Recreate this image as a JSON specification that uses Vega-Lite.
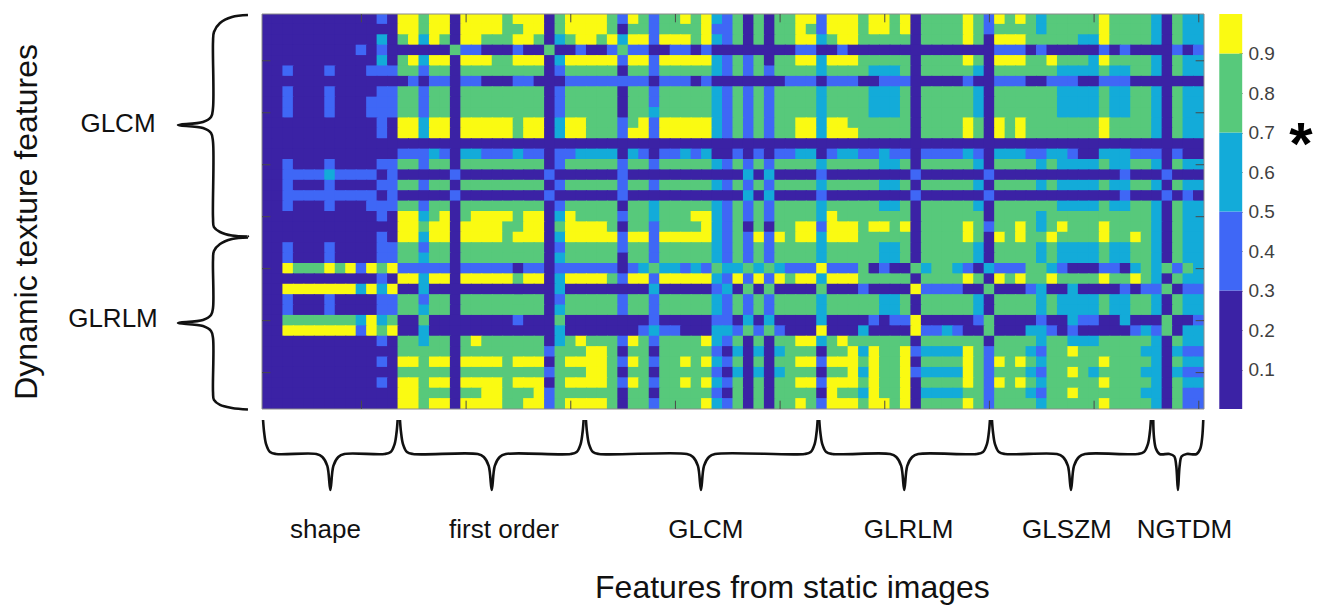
{"$schema":"https://vega.github.io/schema/vega-lite/v6.json","width":942,"height":395,"autosize":{"type":"none"},"padding":{"left":262,"top":14,"right":120,"bottom":196},"background":"white","config":{"view":{"stroke":null}},"resolve":{"scale":{"y":"independent"}},"layer":[
{"data":{"format":{"type":"csv","parse":{"x":"number","y":"number","v":"number"}},"values":"x,y,v\n1,1,.2\n2,1,.2\n3,1,.2\n4,1,.2\n5,1,.2\n6,1,.2\n7,1,.2\n8,1,.2\n9,1,.2\n10,1,.2\n11,1,.2\n12,1,.4\n13,1,.2\n14,1,.95\n15,1,.95\n16,1,.8\n17,1,.95\n18,1,.95\n19,1,.2\n20,1,.95\n21,1,.95\n22,1,.95\n23,1,.95\n24,1,.8\n25,1,.95\n26,1,.95\n27,1,.95\n28,1,.2\n29,1,.8\n30,1,.95\n31,1,.95\n32,1,.95\n33,1,.95\n34,1,.8\n35,1,.4\n36,1,.95\n37,1,.8\n38,1,.4\n39,1,.8\n40,1,.8\n41,1,.95\n42,1,.8\n43,1,.95\n44,1,.6\n45,1,.4\n46,1,.8\n47,1,.2\n48,1,.8\n49,1,.2\n50,1,.8\n51,1,.8\n52,1,.95\n53,1,.95\n54,1,.4\n55,1,.95\n56,1,.95\n57,1,.95\n58,1,.8\n59,1,.95\n60,1,.95\n61,1,.8\n62,1,.95\n63,1,.2\n64,1,.8\n65,1,.8\n66,1,.8\n67,1,.8\n68,1,.95\n69,1,.8\n70,1,.4\n71,1,.95\n72,1,.8\n73,1,.95\n74,1,.8\n75,1,.6\n76,1,.8\n77,1,.8\n78,1,.8\n79,1,.8\n80,1,.8\n81,1,.95\n82,1,.8\n83,1,.8\n84,1,.8\n85,1,.8\n86,1,.6\n87,1,.2\n88,1,.8\n89,1,.6\n90,1,.6\n1,2,.2\n2,2,.2\n3,2,.2\n4,2,.2\n5,2,.2\n6,2,.2\n7,2,.2\n8,2,.2\n9,2,.2\n10,2,.2\n11,2,.2\n12,2,.2\n13,2,.2\n14,2,.95\n15,2,.95\n16,2,.8\n17,2,.95\n18,2,.95\n19,2,.2\n20,2,.95\n21,2,.95\n22,2,.95\n23,2,.95\n24,2,.8\n25,2,.8\n26,2,.95\n27,2,.95\n28,2,.2\n29,2,.8\n30,2,.95\n31,2,.95\n32,2,.95\n33,2,.95\n34,2,.8\n35,2,.2\n36,2,.8\n37,2,.8\n38,2,.4\n39,2,.8\n40,2,.8\n41,2,.8\n42,2,.8\n43,2,.95\n44,2,.4\n45,2,.4\n46,2,.8\n47,2,.2\n48,2,.8\n49,2,.2\n50,2,.8\n51,2,.8\n52,2,.95\n53,2,.8\n54,2,.4\n55,2,.95\n56,2,.95\n57,2,.95\n58,2,.8\n59,2,.95\n60,2,.95\n61,2,.8\n62,2,.95\n63,2,.2\n64,2,.8\n65,2,.8\n66,2,.8\n67,2,.8\n68,2,.95\n69,2,.8\n70,2,.4\n71,2,.8\n72,2,.8\n73,2,.8\n74,2,.8\n75,2,.6\n76,2,.8\n77,2,.8\n78,2,.8\n79,2,.8\n80,2,.8\n81,2,.95\n82,2,.8\n83,2,.8\n84,2,.8\n85,2,.8\n86,2,.6\n87,2,.2\n88,2,.8\n89,2,.6\n90,2,.6\n1,3,.2\n2,3,.2\n3,3,.2\n4,3,.2\n5,3,.2\n6,3,.2\n7,3,.2\n8,3,.2\n9,3,.2\n10,3,.2\n11,3,.2\n12,3,.6\n13,3,.2\n14,3,.8\n15,3,.95\n16,3,.6\n17,3,.95\n18,3,.8\n19,3,.2\n20,3,.95\n21,3,.95\n22,3,.8\n23,3,.8\n24,3,.8\n25,3,.95\n26,3,.95\n27,3,.8\n28,3,.2\n29,3,.6\n30,3,.8\n31,3,.95\n32,3,.95\n33,3,.8\n34,3,.95\n35,3,.6\n36,3,.95\n37,3,.95\n38,3,.4\n39,3,.95\n40,3,.95\n41,3,.95\n42,3,.8\n43,3,.95\n44,3,.6\n45,3,.4\n46,3,.8\n47,3,.2\n48,3,.8\n49,3,.2\n50,3,.8\n51,3,.8\n52,3,.95\n53,3,.95\n54,3,.6\n55,3,.8\n56,3,.95\n57,3,.95\n58,3,.8\n59,3,.8\n60,3,.8\n61,3,.8\n62,3,.8\n63,3,.2\n64,3,.8\n65,3,.8\n66,3,.8\n67,3,.8\n68,3,.95\n69,3,.8\n70,3,.2\n71,3,.95\n72,3,.95\n73,3,.95\n74,3,.8\n75,3,.8\n76,3,.8\n77,3,.8\n78,3,.8\n79,3,.6\n80,3,.6\n81,3,.95\n82,3,.8\n83,3,.8\n84,3,.8\n85,3,.8\n86,3,.6\n87,3,.2\n88,3,.8\n89,3,.6\n90,3,.6\n1,4,.2\n2,4,.2\n3,4,.2\n4,4,.2\n5,4,.2\n6,4,.2\n7,4,.2\n8,4,.2\n9,4,.2\n10,4,.4\n11,4,.2\n12,4,.4\n13,4,.2\n14,4,.2\n15,4,.2\n16,4,.2\n17,4,.2\n18,4,.2\n19,4,.8\n20,4,.4\n21,4,.4\n22,4,.2\n23,4,.2\n24,4,.2\n25,4,.4\n26,4,.2\n27,4,.2\n28,4,.8\n29,4,.2\n30,4,.2\n31,4,.4\n32,4,.2\n33,4,.2\n34,4,.4\n35,4,.8\n36,4,.4\n37,4,.4\n38,4,.2\n39,4,.2\n40,4,.4\n41,4,.4\n42,4,.2\n43,4,.4\n44,4,.2\n45,4,.2\n46,4,.2\n47,4,.2\n48,4,.2\n49,4,.2\n50,4,.2\n51,4,.2\n52,4,.4\n53,4,.4\n54,4,.2\n55,4,.2\n56,4,.4\n57,4,.2\n58,4,.2\n59,4,.2\n60,4,.2\n61,4,.2\n62,4,.2\n63,4,.2\n64,4,.2\n65,4,.2\n66,4,.2\n67,4,.2\n68,4,.2\n69,4,.2\n70,4,.2\n71,4,.4\n72,4,.4\n73,4,.4\n74,4,.2\n75,4,.4\n76,4,.2\n77,4,.2\n78,4,.2\n79,4,.2\n80,4,.2\n81,4,.4\n82,4,.2\n83,4,.4\n84,4,.2\n85,4,.2\n86,4,.2\n87,4,.2\n88,4,.4\n89,4,.2\n90,4,.4\n1,5,.2\n2,5,.2\n3,5,.2\n4,5,.2\n5,5,.2\n6,5,.2\n7,5,.2\n8,5,.2\n9,5,.2\n10,5,.2\n11,5,.2\n12,5,.6\n13,5,.2\n14,5,.8\n15,5,.95\n16,5,.6\n17,5,.95\n18,5,.95\n19,5,.2\n20,5,.95\n21,5,.95\n22,5,.95\n23,5,.8\n24,5,.8\n25,5,.95\n26,5,.95\n27,5,.95\n28,5,.2\n29,5,.6\n30,5,.95\n31,5,.95\n32,5,.95\n33,5,.95\n34,5,.95\n35,5,.4\n36,5,.95\n37,5,.95\n38,5,.4\n39,5,.95\n40,5,.95\n41,5,.95\n42,5,.95\n43,5,.95\n44,5,.6\n45,5,.4\n46,5,.8\n47,5,.4\n48,5,.8\n49,5,.2\n50,5,.8\n51,5,.8\n52,5,.95\n53,5,.95\n54,5,.6\n55,5,.95\n56,5,.95\n57,5,.95\n58,5,.8\n59,5,.8\n60,5,.8\n61,5,.8\n62,5,.8\n63,5,.2\n64,5,.8\n65,5,.8\n66,5,.8\n67,5,.8\n68,5,.95\n69,5,.8\n70,5,.2\n71,5,.95\n72,5,.95\n73,5,.95\n74,5,.8\n75,5,.8\n76,5,.95\n77,5,.8\n78,5,.8\n79,5,.8\n80,5,.6\n81,5,.95\n82,5,.8\n83,5,.8\n84,5,.8\n85,5,.8\n86,5,.6\n87,5,.2\n88,5,.8\n89,5,.6\n90,5,.6\n1,6,.2\n2,6,.2\n3,6,.4\n4,6,.2\n5,6,.2\n6,6,.2\n7,6,.4\n8,6,.2\n9,6,.2\n10,6,.2\n11,6,.4\n12,6,.4\n13,6,.4\n14,6,.8\n15,6,.8\n16,6,.4\n17,6,.8\n18,6,.8\n19,6,.2\n20,6,.8\n21,6,.8\n22,6,.8\n23,6,.8\n24,6,.8\n25,6,.8\n26,6,.8\n27,6,.8\n28,6,.2\n29,6,.4\n30,6,.8\n31,6,.8\n32,6,.8\n33,6,.8\n34,6,.8\n35,6,.2\n36,6,.8\n37,6,.8\n38,6,.4\n39,6,.8\n40,6,.8\n41,6,.8\n42,6,.8\n43,6,.8\n44,6,.6\n45,6,.4\n46,6,.8\n47,6,.4\n48,6,.8\n49,6,.4\n50,6,.8\n51,6,.8\n52,6,.8\n53,6,.8\n54,6,.6\n55,6,.8\n56,6,.8\n57,6,.8\n58,6,.8\n59,6,.6\n60,6,.6\n61,6,.6\n62,6,.8\n63,6,.2\n64,6,.8\n65,6,.8\n66,6,.8\n67,6,.8\n68,6,.8\n69,6,.6\n70,6,.2\n71,6,.8\n72,6,.8\n73,6,.8\n74,6,.8\n75,6,.8\n76,6,.8\n77,6,.6\n78,6,.6\n79,6,.6\n80,6,.6\n81,6,.8\n82,6,.6\n83,6,.6\n84,6,.8\n85,6,.8\n86,6,.6\n87,6,.2\n88,6,.8\n89,6,.6\n90,6,.6\n1,7,.2\n2,7,.2\n3,7,.2\n4,7,.2\n5,7,.2\n6,7,.2\n7,7,.2\n8,7,.2\n9,7,.2\n10,7,.2\n11,7,.2\n12,7,.2\n13,7,.2\n14,7,.2\n15,7,.4\n16,7,.2\n17,7,.4\n18,7,.4\n19,7,.2\n20,7,.4\n21,7,.4\n22,7,.2\n23,7,.2\n24,7,.2\n25,7,.4\n26,7,.4\n27,7,.2\n28,7,.2\n29,7,.2\n30,7,.4\n31,7,.4\n32,7,.4\n33,7,.4\n34,7,.4\n35,7,.4\n36,7,.4\n37,7,.4\n38,7,.2\n39,7,.4\n40,7,.4\n41,7,.4\n42,7,.2\n43,7,.4\n44,7,.2\n45,7,.2\n46,7,.2\n47,7,.2\n48,7,.2\n49,7,.2\n50,7,.2\n51,7,.4\n52,7,.4\n53,7,.4\n54,7,.2\n55,7,.4\n56,7,.4\n57,7,.4\n58,7,.2\n59,7,.2\n60,7,.4\n61,7,.4\n62,7,.4\n63,7,.2\n64,7,.2\n65,7,.2\n66,7,.2\n67,7,.2\n68,7,.4\n69,7,.2\n70,7,.2\n71,7,.4\n72,7,.4\n73,7,.4\n74,7,.2\n75,7,.2\n76,7,.4\n77,7,.4\n78,7,.4\n79,7,.2\n80,7,.2\n81,7,.4\n82,7,.4\n83,7,.4\n84,7,.2\n85,7,.2\n86,7,.2\n87,7,.2\n88,7,.2\n89,7,.2\n90,7,.2\n1,8,.2\n2,8,.2\n3,8,.4\n4,8,.2\n5,8,.2\n6,8,.2\n7,8,.4\n8,8,.2\n9,8,.2\n10,8,.2\n11,8,.2\n12,8,.4\n13,8,.4\n14,8,.8\n15,8,.8\n16,8,.4\n17,8,.8\n18,8,.8\n19,8,.2\n20,8,.8\n21,8,.8\n22,8,.8\n23,8,.8\n24,8,.8\n25,8,.8\n26,8,.8\n27,8,.8\n28,8,.2\n29,8,.4\n30,8,.8\n31,8,.8\n32,8,.8\n33,8,.8\n34,8,.8\n35,8,.2\n36,8,.8\n37,8,.8\n38,8,.4\n39,8,.8\n40,8,.8\n41,8,.8\n42,8,.8\n43,8,.8\n44,8,.6\n45,8,.4\n46,8,.8\n47,8,.4\n48,8,.8\n49,8,.4\n50,8,.8\n51,8,.8\n52,8,.8\n53,8,.8\n54,8,.6\n55,8,.8\n56,8,.8\n57,8,.8\n58,8,.8\n59,8,.6\n60,8,.6\n61,8,.6\n62,8,.8\n63,8,.2\n64,8,.8\n65,8,.8\n66,8,.8\n67,8,.8\n68,8,.8\n69,8,.6\n70,8,.2\n71,8,.8\n72,8,.8\n73,8,.8\n74,8,.8\n75,8,.8\n76,8,.8\n77,8,.6\n78,8,.6\n79,8,.6\n80,8,.6\n81,8,.8\n82,8,.6\n83,8,.6\n84,8,.8\n85,8,.8\n86,8,.6\n87,8,.2\n88,8,.8\n89,8,.6\n90,8,.6\n1,9,.2\n2,9,.2\n3,9,.4\n4,9,.2\n5,9,.2\n6,9,.2\n7,9,.4\n8,9,.2\n9,9,.2\n10,9,.2\n11,9,.4\n12,9,.4\n13,9,.4\n14,9,.8\n15,9,.8\n16,9,.4\n17,9,.8\n18,9,.8\n19,9,.2\n20,9,.8\n21,9,.8\n22,9,.8\n23,9,.8\n24,9,.8\n25,9,.8\n26,9,.8\n27,9,.8\n28,9,.2\n29,9,.4\n30,9,.8\n31,9,.8\n32,9,.8\n33,9,.8\n34,9,.8\n35,9,.2\n36,9,.8\n37,9,.8\n38,9,.4\n39,9,.8\n40,9,.8\n41,9,.8\n42,9,.8\n43,9,.8\n44,9,.6\n45,9,.4\n46,9,.8\n47,9,.4\n48,9,.8\n49,9,.4\n50,9,.8\n51,9,.8\n52,9,.8\n53,9,.8\n54,9,.6\n55,9,.8\n56,9,.8\n57,9,.8\n58,9,.8\n59,9,.6\n60,9,.6\n61,9,.6\n62,9,.8\n63,9,.2\n64,9,.8\n65,9,.8\n66,9,.8\n67,9,.8\n68,9,.8\n69,9,.6\n70,9,.2\n71,9,.8\n72,9,.8\n73,9,.8\n74,9,.8\n75,9,.8\n76,9,.8\n77,9,.6\n78,9,.6\n79,9,.6\n80,9,.6\n81,9,.8\n82,9,.6\n83,9,.6\n84,9,.8\n85,9,.8\n86,9,.6\n87,9,.2\n88,9,.8\n89,9,.6\n90,9,.6\n1,10,.2\n2,10,.2\n3,10,.4\n4,10,.2\n5,10,.2\n6,10,.2\n7,10,.4\n8,10,.2\n9,10,.2\n10,10,.2\n11,10,.4\n12,10,.4\n13,10,.4\n14,10,.8\n15,10,.8\n16,10,.4\n17,10,.8\n18,10,.8\n19,10,.2\n20,10,.8\n21,10,.8\n22,10,.8\n23,10,.8\n24,10,.8\n25,10,.8\n26,10,.8\n27,10,.8\n28,10,.2\n29,10,.4\n30,10,.8\n31,10,.8\n32,10,.8\n33,10,.8\n34,10,.8\n35,10,.2\n36,10,.8\n37,10,.8\n38,10,.6\n39,10,.8\n40,10,.8\n41,10,.8\n42,10,.8\n43,10,.8\n44,10,.6\n45,10,.4\n46,10,.8\n47,10,.4\n48,10,.8\n49,10,.4\n50,10,.8\n51,10,.8\n52,10,.8\n53,10,.8\n54,10,.6\n55,10,.8\n56,10,.8\n57,10,.8\n58,10,.8\n59,10,.6\n60,10,.6\n61,10,.6\n62,10,.8\n63,10,.2\n64,10,.8\n65,10,.8\n66,10,.8\n67,10,.8\n68,10,.8\n69,10,.6\n70,10,.2\n71,10,.8\n72,10,.8\n73,10,.8\n74,10,.8\n75,10,.8\n76,10,.8\n77,10,.6\n78,10,.6\n79,10,.6\n80,10,.6\n81,10,.8\n82,10,.6\n83,10,.6\n84,10,.8\n85,10,.8\n86,10,.6\n87,10,.2\n88,10,.8\n89,10,.6\n90,10,.6\n1,11,.2\n2,11,.2\n3,11,.2\n4,11,.2\n5,11,.2\n6,11,.2\n7,11,.2\n8,11,.2\n9,11,.2\n10,11,.2\n11,11,.2\n12,11,.4\n13,11,.2\n14,11,.95\n15,11,.95\n16,11,.6\n17,11,.95\n18,11,.95\n19,11,.2\n20,11,.95\n21,11,.95\n22,11,.95\n23,11,.95\n24,11,.95\n25,11,.8\n26,11,.95\n27,11,.95\n28,11,.2\n29,11,.6\n30,11,.95\n31,11,.95\n32,11,.8\n33,11,.8\n34,11,.8\n35,11,.4\n36,11,.8\n37,11,.95\n38,11,.4\n39,11,.95\n40,11,.95\n41,11,.95\n42,11,.95\n43,11,.95\n44,11,.6\n45,11,.4\n46,11,.8\n47,11,.4\n48,11,.8\n49,11,.4\n50,11,.8\n51,11,.8\n52,11,.95\n53,11,.95\n54,11,.6\n55,11,.95\n56,11,.95\n57,11,.8\n58,11,.8\n59,11,.8\n60,11,.8\n61,11,.8\n62,11,.8\n63,11,.2\n64,11,.8\n65,11,.8\n66,11,.8\n67,11,.8\n68,11,.95\n69,11,.8\n70,11,.2\n71,11,.95\n72,11,.8\n73,11,.95\n74,11,.8\n75,11,.8\n76,11,.8\n77,11,.8\n78,11,.8\n79,11,.8\n80,11,.8\n81,11,.95\n82,11,.8\n83,11,.8\n84,11,.8\n85,11,.8\n86,11,.6\n87,11,.2\n88,11,.8\n89,11,.6\n90,11,.6\n1,12,.2\n2,12,.2\n3,12,.2\n4,12,.2\n5,12,.2\n6,12,.2\n7,12,.2\n8,12,.2\n9,12,.2\n10,12,.2\n11,12,.2\n12,12,.4\n13,12,.2\n14,12,.95\n15,12,.95\n16,12,.6\n17,12,.95\n18,12,.95\n19,12,.2\n20,12,.95\n21,12,.95\n22,12,.95\n23,12,.95\n24,12,.95\n25,12,.8\n26,12,.95\n27,12,.95\n28,12,.2\n29,12,.6\n30,12,.95\n31,12,.95\n32,12,.8\n33,12,.8\n34,12,.8\n35,12,.4\n36,12,.95\n37,12,.95\n38,12,.4\n39,12,.95\n40,12,.95\n41,12,.95\n42,12,.95\n43,12,.95\n44,12,.6\n45,12,.4\n46,12,.8\n47,12,.4\n48,12,.8\n49,12,.4\n50,12,.8\n51,12,.8\n52,12,.95\n53,12,.95\n54,12,.6\n55,12,.95\n56,12,.95\n57,12,.95\n58,12,.8\n59,12,.8\n60,12,.8\n61,12,.8\n62,12,.8\n63,12,.2\n64,12,.8\n65,12,.8\n66,12,.8\n67,12,.8\n68,12,.95\n69,12,.8\n70,12,.2\n71,12,.95\n72,12,.8\n73,12,.95\n74,12,.8\n75,12,.8\n76,12,.8\n77,12,.8\n78,12,.8\n79,12,.8\n80,12,.8\n81,12,.95\n82,12,.8\n83,12,.8\n84,12,.8\n85,12,.8\n86,12,.6\n87,12,.2\n88,12,.8\n89,12,.6\n90,12,.6\n1,13,.2\n2,13,.2\n3,13,.2\n4,13,.2\n5,13,.2\n6,13,.2\n7,13,.2\n8,13,.2\n9,13,.2\n10,13,.2\n11,13,.2\n12,13,.2\n13,13,.2\n14,13,.2\n15,13,.2\n16,13,.2\n17,13,.2\n18,13,.2\n19,13,.2\n20,13,.2\n21,13,.2\n22,13,.2\n23,13,.2\n24,13,.2\n25,13,.2\n26,13,.2\n27,13,.2\n28,13,.2\n29,13,.2\n30,13,.2\n31,13,.2\n32,13,.2\n33,13,.2\n34,13,.2\n35,13,.2\n36,13,.2\n37,13,.2\n38,13,.2\n39,13,.2\n40,13,.2\n41,13,.2\n42,13,.2\n43,13,.2\n44,13,.2\n45,13,.2\n46,13,.2\n47,13,.2\n48,13,.2\n49,13,.2\n50,13,.2\n51,13,.2\n52,13,.2\n53,13,.2\n54,13,.2\n55,13,.2\n56,13,.2\n57,13,.2\n58,13,.2\n59,13,.2\n60,13,.2\n61,13,.2\n62,13,.2\n63,13,.2\n64,13,.2\n65,13,.2\n66,13,.2\n67,13,.2\n68,13,.2\n69,13,.2\n70,13,.2\n71,13,.2\n72,13,.2\n73,13,.2\n74,13,.2\n75,13,.2\n76,13,.2\n77,13,.2\n78,13,.2\n79,13,.2\n80,13,.2\n81,13,.2\n82,13,.2\n83,13,.2\n84,13,.2\n85,13,.2\n86,13,.2\n87,13,.2\n88,13,.2\n89,13,.2\n90,13,.2\n1,14,.2\n2,14,.2\n3,14,.2\n4,14,.2\n5,14,.2\n6,14,.2\n7,14,.2\n8,14,.2\n9,14,.2\n10,14,.2\n11,14,.2\n12,14,.2\n13,14,.2\n14,14,.4\n15,14,.4\n16,14,.4\n17,14,.6\n18,14,.4\n19,14,.2\n20,14,.6\n21,14,.6\n22,14,.4\n23,14,.4\n24,14,.4\n25,14,.6\n26,14,.4\n27,14,.4\n28,14,.2\n29,14,.4\n30,14,.4\n31,14,.6\n32,14,.6\n33,14,.6\n34,14,.6\n35,14,.2\n36,14,.6\n37,14,.4\n38,14,.2\n39,14,.4\n40,14,.4\n41,14,.6\n42,14,.4\n43,14,.6\n44,14,.2\n45,14,.2\n46,14,.4\n47,14,.2\n48,14,.4\n49,14,.2\n50,14,.4\n51,14,.4\n52,14,.6\n53,14,.6\n54,14,.2\n55,14,.4\n56,14,.6\n57,14,.6\n58,14,.4\n59,14,.4\n60,14,.6\n61,14,.4\n62,14,.4\n63,14,.2\n64,14,.4\n65,14,.4\n66,14,.4\n67,14,.4\n68,14,.6\n69,14,.4\n70,14,.2\n71,14,.6\n72,14,.6\n73,14,.6\n74,14,.4\n75,14,.4\n76,14,.6\n77,14,.6\n78,14,.4\n79,14,.2\n80,14,.2\n81,14,.6\n82,14,.6\n83,14,.6\n84,14,.4\n85,14,.4\n86,14,.4\n87,14,.2\n88,14,.4\n89,14,.2\n90,14,.2\n1,15,.2\n2,15,.2\n3,15,.4\n4,15,.2\n5,15,.2\n6,15,.2\n7,15,.4\n8,15,.2\n9,15,.2\n10,15,.2\n11,15,.2\n12,15,.4\n13,15,.4\n14,15,.8\n15,15,.8\n16,15,.4\n17,15,.8\n18,15,.8\n19,15,.2\n20,15,.8\n21,15,.8\n22,15,.8\n23,15,.8\n24,15,.8\n25,15,.8\n26,15,.8\n27,15,.8\n28,15,.2\n29,15,.4\n30,15,.8\n31,15,.8\n32,15,.8\n33,15,.8\n34,15,.8\n35,15,.4\n36,15,.8\n37,15,.8\n38,15,.4\n39,15,.8\n40,15,.8\n41,15,.8\n42,15,.8\n43,15,.8\n44,15,.6\n45,15,.4\n46,15,.8\n47,15,.4\n48,15,.8\n49,15,.4\n50,15,.8\n51,15,.8\n52,15,.8\n53,15,.8\n54,15,.6\n55,15,.8\n56,15,.8\n57,15,.8\n58,15,.8\n59,15,.8\n60,15,.6\n61,15,.6\n62,15,.8\n63,15,.2\n64,15,.8\n65,15,.8\n66,15,.8\n67,15,.8\n68,15,.8\n69,15,.6\n70,15,.2\n71,15,.8\n72,15,.8\n73,15,.8\n74,15,.8\n75,15,.6\n76,15,.8\n77,15,.6\n78,15,.6\n79,15,.6\n80,15,.6\n81,15,.8\n82,15,.6\n83,15,.6\n84,15,.8\n85,15,.8\n86,15,.6\n87,15,.2\n88,15,.8\n89,15,.6\n90,15,.6\n1,16,.2\n2,16,.2\n3,16,.4\n4,16,.4\n5,16,.4\n6,16,.4\n7,16,.6\n8,16,.4\n9,16,.4\n10,16,.4\n11,16,.4\n12,16,.2\n13,16,.4\n14,16,.2\n15,16,.2\n16,16,.2\n17,16,.2\n18,16,.2\n19,16,.4\n20,16,.2\n21,16,.2\n22,16,.2\n23,16,.2\n24,16,.2\n25,16,.2\n26,16,.2\n27,16,.2\n28,16,.4\n29,16,.2\n30,16,.2\n31,16,.2\n32,16,.2\n33,16,.2\n34,16,.2\n35,16,.4\n36,16,.2\n37,16,.2\n38,16,.2\n39,16,.2\n40,16,.2\n41,16,.2\n42,16,.2\n43,16,.2\n44,16,.2\n45,16,.2\n46,16,.2\n47,16,.6\n48,16,.2\n49,16,.6\n50,16,.2\n51,16,.2\n52,16,.2\n53,16,.2\n54,16,.4\n55,16,.2\n56,16,.2\n57,16,.2\n58,16,.2\n59,16,.2\n60,16,.2\n61,16,.2\n62,16,.2\n63,16,.4\n64,16,.2\n65,16,.2\n66,16,.2\n67,16,.2\n68,16,.2\n69,16,.2\n70,16,.4\n71,16,.2\n72,16,.2\n73,16,.2\n74,16,.2\n75,16,.2\n76,16,.2\n77,16,.2\n78,16,.2\n79,16,.2\n80,16,.2\n81,16,.2\n82,16,.2\n83,16,.4\n84,16,.2\n85,16,.2\n86,16,.2\n87,16,.4\n88,16,.2\n89,16,.2\n90,16,.2\n1,17,.2\n2,17,.2\n3,17,.4\n4,17,.2\n5,17,.2\n6,17,.2\n7,17,.4\n8,17,.2\n9,17,.2\n10,17,.2\n11,17,.2\n12,17,.4\n13,17,.4\n14,17,.8\n15,17,.8\n16,17,.4\n17,17,.8\n18,17,.8\n19,17,.2\n20,17,.8\n21,17,.8\n22,17,.8\n23,17,.8\n24,17,.8\n25,17,.8\n26,17,.8\n27,17,.8\n28,17,.2\n29,17,.4\n30,17,.8\n31,17,.8\n32,17,.8\n33,17,.8\n34,17,.8\n35,17,.4\n36,17,.8\n37,17,.8\n38,17,.4\n39,17,.8\n40,17,.8\n41,17,.8\n42,17,.8\n43,17,.8\n44,17,.6\n45,17,.4\n46,17,.8\n47,17,.4\n48,17,.8\n49,17,.4\n50,17,.8\n51,17,.8\n52,17,.8\n53,17,.8\n54,17,.6\n55,17,.8\n56,17,.8\n57,17,.8\n58,17,.8\n59,17,.8\n60,17,.6\n61,17,.6\n62,17,.8\n63,17,.2\n64,17,.8\n65,17,.8\n66,17,.8\n67,17,.8\n68,17,.8\n69,17,.6\n70,17,.2\n71,17,.8\n72,17,.8\n73,17,.8\n74,17,.8\n75,17,.6\n76,17,.8\n77,17,.6\n78,17,.6\n79,17,.6\n80,17,.6\n81,17,.8\n82,17,.6\n83,17,.6\n84,17,.8\n85,17,.8\n86,17,.6\n87,17,.2\n88,17,.8\n89,17,.6\n90,17,.6\n1,18,.2\n2,18,.2\n3,18,.4\n4,18,.4\n5,18,.4\n6,18,.4\n7,18,.4\n8,18,.4\n9,18,.4\n10,18,.4\n11,18,.4\n12,18,.2\n13,18,.4\n14,18,.2\n15,18,.2\n16,18,.2\n17,18,.2\n18,18,.2\n19,18,.4\n20,18,.2\n21,18,.2\n22,18,.2\n23,18,.2\n24,18,.2\n25,18,.2\n26,18,.2\n27,18,.2\n28,18,.4\n29,18,.2\n30,18,.2\n31,18,.2\n32,18,.2\n33,18,.2\n34,18,.2\n35,18,.4\n36,18,.2\n37,18,.2\n38,18,.2\n39,18,.2\n40,18,.2\n41,18,.2\n42,18,.2\n43,18,.2\n44,18,.2\n45,18,.2\n46,18,.2\n47,18,.6\n48,18,.2\n49,18,.6\n50,18,.2\n51,18,.2\n52,18,.2\n53,18,.2\n54,18,.4\n55,18,.2\n56,18,.2\n57,18,.2\n58,18,.2\n59,18,.2\n60,18,.2\n61,18,.2\n62,18,.2\n63,18,.4\n64,18,.2\n65,18,.2\n66,18,.2\n67,18,.2\n68,18,.2\n69,18,.2\n70,18,.4\n71,18,.2\n72,18,.2\n73,18,.2\n74,18,.2\n75,18,.2\n76,18,.2\n77,18,.2\n78,18,.2\n79,18,.2\n80,18,.2\n81,18,.2\n82,18,.2\n83,18,.4\n84,18,.2\n85,18,.2\n86,18,.2\n87,18,.4\n88,18,.2\n89,18,.4\n90,18,.2\n1,19,.2\n2,19,.2\n3,19,.4\n4,19,.2\n5,19,.2\n6,19,.2\n7,19,.4\n8,19,.2\n9,19,.2\n10,19,.2\n11,19,.4\n12,19,.4\n13,19,.4\n14,19,.8\n15,19,.8\n16,19,.4\n17,19,.8\n18,19,.8\n19,19,.2\n20,19,.8\n21,19,.8\n22,19,.8\n23,19,.8\n24,19,.8\n25,19,.8\n26,19,.8\n27,19,.8\n28,19,.2\n29,19,.4\n30,19,.8\n31,19,.8\n32,19,.8\n33,19,.8\n34,19,.8\n35,19,.2\n36,19,.8\n37,19,.8\n38,19,.6\n39,19,.8\n40,19,.8\n41,19,.8\n42,19,.8\n43,19,.8\n44,19,.6\n45,19,.4\n46,19,.8\n47,19,.4\n48,19,.8\n49,19,.4\n50,19,.8\n51,19,.8\n52,19,.8\n53,19,.8\n54,19,.6\n55,19,.8\n56,19,.8\n57,19,.8\n58,19,.8\n59,19,.8\n60,19,.6\n61,19,.6\n62,19,.8\n63,19,.2\n64,19,.8\n65,19,.8\n66,19,.8\n67,19,.8\n68,19,.8\n69,19,.6\n70,19,.2\n71,19,.8\n72,19,.8\n73,19,.8\n74,19,.8\n75,19,.8\n76,19,.8\n77,19,.6\n78,19,.6\n79,19,.6\n80,19,.6\n81,19,.8\n82,19,.6\n83,19,.6\n84,19,.8\n85,19,.8\n86,19,.6\n87,19,.2\n88,19,.8\n89,19,.6\n90,19,.6\n1,20,.2\n2,20,.2\n3,20,.2\n4,20,.2\n5,20,.2\n6,20,.2\n7,20,.2\n8,20,.2\n9,20,.2\n10,20,.2\n11,20,.2\n12,20,.4\n13,20,.2\n14,20,.95\n15,20,.95\n16,20,.6\n17,20,.8\n18,20,.95\n19,20,.2\n20,20,.8\n21,20,.95\n22,20,.95\n23,20,.95\n24,20,.95\n25,20,.8\n26,20,.95\n27,20,.95\n28,20,.2\n29,20,.6\n30,20,.95\n31,20,.8\n32,20,.8\n33,20,.8\n34,20,.8\n35,20,.4\n36,20,.8\n37,20,.8\n38,20,.6\n39,20,.8\n40,20,.8\n41,20,.8\n42,20,.95\n43,20,.95\n44,20,.6\n45,20,.4\n46,20,.8\n47,20,.4\n48,20,.8\n49,20,.4\n50,20,.8\n51,20,.8\n52,20,.8\n53,20,.8\n54,20,.6\n55,20,.95\n56,20,.8\n57,20,.8\n58,20,.8\n59,20,.8\n60,20,.8\n61,20,.8\n62,20,.8\n63,20,.2\n64,20,.8\n65,20,.8\n66,20,.8\n67,20,.8\n68,20,.8\n69,20,.8\n70,20,.2\n71,20,.8\n72,20,.8\n73,20,.8\n74,20,.8\n75,20,.6\n76,20,.8\n77,20,.8\n78,20,.8\n79,20,.8\n80,20,.8\n81,20,.8\n82,20,.8\n83,20,.8\n84,20,.8\n85,20,.8\n86,20,.6\n87,20,.2\n88,20,.8\n89,20,.6\n90,20,.6\n1,21,.2\n2,21,.2\n3,21,.2\n4,21,.2\n5,21,.2\n6,21,.2\n7,21,.2\n8,21,.2\n9,21,.2\n10,21,.2\n11,21,.2\n12,21,.2\n13,21,.2\n14,21,.95\n15,21,.95\n16,21,.8\n17,21,.95\n18,21,.95\n19,21,.2\n20,21,.95\n21,21,.95\n22,21,.95\n23,21,.95\n24,21,.8\n25,21,.8\n26,21,.95\n27,21,.95\n28,21,.2\n29,21,.8\n30,21,.95\n31,21,.95\n32,21,.95\n33,21,.95\n34,21,.8\n35,21,.2\n36,21,.8\n37,21,.8\n38,21,.4\n39,21,.8\n40,21,.8\n41,21,.8\n42,21,.8\n43,21,.95\n44,21,.6\n45,21,.4\n46,21,.8\n47,21,.2\n48,21,.8\n49,21,.2\n50,21,.8\n51,21,.8\n52,21,.95\n53,21,.95\n54,21,.4\n55,21,.95\n56,21,.95\n57,21,.95\n58,21,.8\n59,21,.95\n60,21,.95\n61,21,.8\n62,21,.95\n63,21,.2\n64,21,.8\n65,21,.8\n66,21,.8\n67,21,.8\n68,21,.95\n69,21,.8\n70,21,.4\n71,21,.8\n72,21,.8\n73,21,.95\n74,21,.8\n75,21,.6\n76,21,.8\n77,21,.95\n78,21,.8\n79,21,.8\n80,21,.8\n81,21,.95\n82,21,.8\n83,21,.8\n84,21,.8\n85,21,.8\n86,21,.6\n87,21,.2\n88,21,.8\n89,21,.6\n90,21,.6\n1,22,.2\n2,22,.2\n3,22,.2\n4,22,.2\n5,22,.2\n6,22,.2\n7,22,.2\n8,22,.2\n9,22,.2\n10,22,.2\n11,22,.2\n12,22,.4\n13,22,.2\n14,22,.95\n15,22,.95\n16,22,.6\n17,22,.95\n18,22,.95\n19,22,.2\n20,22,.95\n21,22,.95\n22,22,.95\n23,22,.95\n24,22,.8\n25,22,.95\n26,22,.95\n27,22,.95\n28,22,.2\n29,22,.6\n30,22,.95\n31,22,.95\n32,22,.95\n33,22,.95\n34,22,.95\n35,22,.4\n36,22,.95\n37,22,.95\n38,22,.4\n39,22,.95\n40,22,.95\n41,22,.95\n42,22,.95\n43,22,.95\n44,22,.6\n45,22,.4\n46,22,.8\n47,22,.4\n48,22,.95\n49,22,.4\n50,22,.95\n51,22,.8\n52,22,.95\n53,22,.95\n54,22,.6\n55,22,.95\n56,22,.95\n57,22,.95\n58,22,.8\n59,22,.8\n60,22,.8\n61,22,.8\n62,22,.8\n63,22,.2\n64,22,.8\n65,22,.8\n66,22,.8\n67,22,.8\n68,22,.95\n69,22,.8\n70,22,.2\n71,22,.95\n72,22,.8\n73,22,.95\n74,22,.8\n75,22,.8\n76,22,.95\n77,22,.8\n78,22,.8\n79,22,.8\n80,22,.8\n81,22,.95\n82,22,.8\n83,22,.8\n84,22,.95\n85,22,.8\n86,22,.6\n87,22,.2\n88,22,.8\n89,22,.6\n90,22,.6\n1,23,.2\n2,23,.2\n3,23,.4\n4,23,.2\n5,23,.2\n6,23,.2\n7,23,.4\n8,23,.2\n9,23,.2\n10,23,.2\n11,23,.2\n12,23,.4\n13,23,.4\n14,23,.8\n15,23,.8\n16,23,.4\n17,23,.8\n18,23,.8\n19,23,.2\n20,23,.8\n21,23,.8\n22,23,.8\n23,23,.8\n24,23,.8\n25,23,.8\n26,23,.8\n27,23,.8\n28,23,.2\n29,23,.4\n30,23,.8\n31,23,.8\n32,23,.8\n33,23,.8\n34,23,.8\n35,23,.4\n36,23,.8\n37,23,.8\n38,23,.4\n39,23,.8\n40,23,.8\n41,23,.8\n42,23,.8\n43,23,.8\n44,23,.6\n45,23,.4\n46,23,.8\n47,23,.4\n48,23,.8\n49,23,.4\n50,23,.8\n51,23,.8\n52,23,.8\n53,23,.8\n54,23,.6\n55,23,.8\n56,23,.8\n57,23,.8\n58,23,.8\n59,23,.8\n60,23,.6\n61,23,.6\n62,23,.8\n63,23,.2\n64,23,.8\n65,23,.8\n66,23,.8\n67,23,.8\n68,23,.8\n69,23,.6\n70,23,.2\n71,23,.8\n72,23,.8\n73,23,.8\n74,23,.8\n75,23,.6\n76,23,.8\n77,23,.6\n78,23,.6\n79,23,.6\n80,23,.6\n81,23,.8\n82,23,.6\n83,23,.6\n84,23,.8\n85,23,.8\n86,23,.6\n87,23,.2\n88,23,.8\n89,23,.6\n90,23,.6\n1,24,.2\n2,24,.2\n3,24,.4\n4,24,.2\n5,24,.2\n6,24,.2\n7,24,.4\n8,24,.2\n9,24,.2\n10,24,.2\n11,24,.2\n12,24,.4\n13,24,.4\n14,24,.8\n15,24,.8\n16,24,.6\n17,24,.8\n18,24,.8\n19,24,.2\n20,24,.8\n21,24,.8\n22,24,.8\n23,24,.8\n24,24,.8\n25,24,.8\n26,24,.8\n27,24,.8\n28,24,.2\n29,24,.6\n30,24,.8\n31,24,.8\n32,24,.8\n33,24,.8\n34,24,.8\n35,24,.2\n36,24,.8\n37,24,.8\n38,24,.4\n39,24,.8\n40,24,.8\n41,24,.8\n42,24,.8\n43,24,.8\n44,24,.6\n45,24,.4\n46,24,.8\n47,24,.4\n48,24,.8\n49,24,.4\n50,24,.8\n51,24,.8\n52,24,.8\n53,24,.8\n54,24,.6\n55,24,.8\n56,24,.8\n57,24,.8\n58,24,.8\n59,24,.8\n60,24,.6\n61,24,.6\n62,24,.8\n63,24,.2\n64,24,.8\n65,24,.8\n66,24,.8\n67,24,.8\n68,24,.8\n69,24,.6\n70,24,.2\n71,24,.8\n72,24,.8\n73,24,.8\n74,24,.8\n75,24,.6\n76,24,.8\n77,24,.6\n78,24,.6\n79,24,.6\n80,24,.6\n81,24,.8\n82,24,.6\n83,24,.6\n84,24,.8\n85,24,.8\n86,24,.6\n87,24,.2\n88,24,.8\n89,24,.6\n90,24,.6\n1,25,.2\n2,25,.2\n3,25,.95\n4,25,.8\n5,25,.8\n6,25,.8\n7,25,.95\n8,25,.8\n9,25,.95\n10,25,.4\n11,25,.95\n12,25,.8\n13,25,.95\n14,25,.4\n15,25,.4\n16,25,.4\n17,25,.4\n18,25,.4\n19,25,.2\n20,25,.4\n21,25,.4\n22,25,.4\n23,25,.4\n24,25,.4\n25,25,.2\n26,25,.4\n27,25,.4\n28,25,.2\n29,25,.4\n30,25,.4\n31,25,.4\n32,25,.4\n33,25,.4\n34,25,.4\n35,25,.2\n36,25,.4\n37,25,.6\n38,25,.8\n39,25,.6\n40,25,.6\n41,25,.4\n42,25,.6\n43,25,.4\n44,25,.8\n45,25,.6\n46,25,.6\n47,25,.8\n48,25,.6\n49,25,.8\n50,25,.6\n51,25,.4\n52,25,.4\n53,25,.4\n54,25,.95\n55,25,.4\n56,25,.4\n57,25,.4\n58,25,.8\n59,25,.2\n60,25,.4\n61,25,.2\n62,25,.2\n63,25,.8\n64,25,.6\n65,25,.8\n66,25,.8\n67,25,.6\n68,25,.4\n69,25,.2\n70,25,.6\n71,25,.4\n72,25,.4\n73,25,.4\n74,25,.8\n75,25,.8\n76,25,.6\n77,25,.4\n78,25,.2\n79,25,.2\n80,25,.2\n81,25,.4\n82,25,.4\n83,25,.2\n84,25,.6\n85,25,.8\n86,25,.6\n87,25,.8\n88,25,.4\n89,25,.8\n90,25,.6\n1,26,.2\n2,26,.2\n3,26,.2\n4,26,.2\n5,26,.2\n6,26,.2\n7,26,.2\n8,26,.2\n9,26,.2\n10,26,.2\n11,26,.2\n12,26,.4\n13,26,.2\n14,26,.95\n15,26,.95\n16,26,.6\n17,26,.95\n18,26,.95\n19,26,.2\n20,26,.95\n21,26,.95\n22,26,.95\n23,26,.95\n24,26,.95\n25,26,.8\n26,26,.95\n27,26,.95\n28,26,.2\n29,26,.6\n30,26,.95\n31,26,.95\n32,26,.95\n33,26,.95\n34,26,.8\n35,26,.4\n36,26,.95\n37,26,.95\n38,26,.4\n39,26,.95\n40,26,.95\n41,26,.95\n42,26,.95\n43,26,.95\n44,26,.6\n45,26,.4\n46,26,.95\n47,26,.4\n48,26,.95\n49,26,.4\n50,26,.95\n51,26,.8\n52,26,.95\n53,26,.95\n54,26,.6\n55,26,.95\n56,26,.95\n57,26,.95\n58,26,.8\n59,26,.8\n60,26,.8\n61,26,.8\n62,26,.8\n63,26,.2\n64,26,.8\n65,26,.8\n66,26,.8\n67,26,.8\n68,26,.95\n69,26,.8\n70,26,.2\n71,26,.95\n72,26,.8\n73,26,.95\n74,26,.8\n75,26,.8\n76,26,.95\n77,26,.8\n78,26,.8\n79,26,.8\n80,26,.8\n81,26,.95\n82,26,.8\n83,26,.8\n84,26,.95\n85,26,.8\n86,26,.6\n87,26,.2\n88,26,.8\n89,26,.6\n90,26,.6\n1,27,.2\n2,27,.2\n3,27,.95\n4,27,.95\n5,27,.95\n6,27,.95\n7,27,.95\n8,27,.95\n9,27,.95\n10,27,.6\n11,27,.95\n12,27,.6\n13,27,.95\n14,27,.2\n15,27,.2\n16,27,.6\n17,27,.2\n18,27,.2\n19,27,.2\n20,27,.2\n21,27,.2\n22,27,.2\n23,27,.2\n24,27,.2\n25,27,.2\n26,27,.2\n27,27,.2\n28,27,.2\n29,27,.6\n30,27,.2\n31,27,.2\n32,27,.2\n33,27,.2\n34,27,.2\n35,27,.2\n36,27,.2\n37,27,.2\n38,27,.6\n39,27,.2\n40,27,.2\n41,27,.2\n42,27,.2\n43,27,.2\n44,27,.4\n45,27,.6\n46,27,.2\n47,27,.8\n48,27,.2\n49,27,.8\n50,27,.2\n51,27,.2\n52,27,.2\n53,27,.2\n54,27,.8\n55,27,.2\n56,27,.2\n57,27,.2\n58,27,.4\n59,27,.2\n60,27,.2\n61,27,.2\n62,27,.2\n63,27,.95\n64,27,.4\n65,27,.4\n66,27,.4\n67,27,.4\n68,27,.2\n69,27,.2\n70,27,.8\n71,27,.2\n72,27,.2\n73,27,.2\n74,27,.4\n75,27,.6\n76,27,.2\n77,27,.2\n78,27,.6\n79,27,.2\n80,27,.2\n81,27,.2\n82,27,.2\n83,27,.4\n84,27,.2\n85,27,.4\n86,27,.4\n87,27,.8\n88,27,.2\n89,27,.4\n90,27,.4\n1,28,.2\n2,28,.2\n3,28,.4\n4,28,.2\n5,28,.2\n6,28,.2\n7,28,.4\n8,28,.2\n9,28,.2\n10,28,.2\n11,28,.2\n12,28,.4\n13,28,.4\n14,28,.8\n15,28,.8\n16,28,.4\n17,28,.8\n18,28,.8\n19,28,.2\n20,28,.8\n21,28,.8\n22,28,.8\n23,28,.8\n24,28,.8\n25,28,.8\n26,28,.8\n27,28,.8\n28,28,.2\n29,28,.4\n30,28,.8\n31,28,.8\n32,28,.8\n33,28,.8\n34,28,.8\n35,28,.4\n36,28,.8\n37,28,.8\n38,28,.4\n39,28,.8\n40,28,.8\n41,28,.8\n42,28,.8\n43,28,.8\n44,28,.6\n45,28,.4\n46,28,.8\n47,28,.4\n48,28,.8\n49,28,.4\n50,28,.8\n51,28,.8\n52,28,.8\n53,28,.8\n54,28,.6\n55,28,.8\n56,28,.8\n57,28,.8\n58,28,.8\n59,28,.8\n60,28,.6\n61,28,.6\n62,28,.8\n63,28,.2\n64,28,.8\n65,28,.8\n66,28,.8\n67,28,.8\n68,28,.8\n69,28,.6\n70,28,.2\n71,28,.8\n72,28,.8\n73,28,.8\n74,28,.8\n75,28,.6\n76,28,.8\n77,28,.6\n78,28,.6\n79,28,.6\n80,28,.6\n81,28,.8\n82,28,.6\n83,28,.6\n84,28,.8\n85,28,.8\n86,28,.6\n87,28,.2\n88,28,.8\n89,28,.6\n90,28,.6\n1,29,.2\n2,29,.2\n3,29,.4\n4,29,.2\n5,29,.2\n6,29,.2\n7,29,.4\n8,29,.2\n9,29,.2\n10,29,.2\n11,29,.2\n12,29,.4\n13,29,.4\n14,29,.8\n15,29,.8\n16,29,.6\n17,29,.8\n18,29,.8\n19,29,.2\n20,29,.8\n21,29,.8\n22,29,.8\n23,29,.8\n24,29,.8\n25,29,.8\n26,29,.8\n27,29,.8\n28,29,.2\n29,29,.6\n30,29,.8\n31,29,.8\n32,29,.8\n33,29,.8\n34,29,.8\n35,29,.4\n36,29,.8\n37,29,.8\n38,29,.4\n39,29,.8\n40,29,.8\n41,29,.8\n42,29,.8\n43,29,.8\n44,29,.6\n45,29,.4\n46,29,.8\n47,29,.4\n48,29,.8\n49,29,.4\n50,29,.8\n51,29,.8\n52,29,.8\n53,29,.8\n54,29,.6\n55,29,.8\n56,29,.8\n57,29,.8\n58,29,.8\n59,29,.8\n60,29,.6\n61,29,.6\n62,29,.8\n63,29,.2\n64,29,.8\n65,29,.8\n66,29,.8\n67,29,.8\n68,29,.8\n69,29,.6\n70,29,.2\n71,29,.8\n72,29,.8\n73,29,.8\n74,29,.8\n75,29,.6\n76,29,.8\n77,29,.6\n78,29,.6\n79,29,.6\n80,29,.6\n81,29,.8\n82,29,.6\n83,29,.6\n84,29,.8\n85,29,.8\n86,29,.6\n87,29,.2\n88,29,.8\n89,29,.6\n90,29,.6\n1,30,.2\n2,30,.2\n3,30,.8\n4,30,.8\n5,30,.8\n6,30,.8\n7,30,.8\n8,30,.8\n9,30,.8\n10,30,.6\n11,30,.95\n12,30,.6\n13,30,.8\n14,30,.2\n15,30,.2\n16,30,.8\n17,30,.2\n18,30,.2\n19,30,.2\n20,30,.2\n21,30,.2\n22,30,.2\n23,30,.2\n24,30,.2\n25,30,.4\n26,30,.2\n27,30,.2\n28,30,.2\n29,30,.8\n30,30,.2\n31,30,.2\n32,30,.2\n33,30,.2\n34,30,.2\n35,30,.2\n36,30,.2\n37,30,.2\n38,30,.4\n39,30,.2\n40,30,.2\n41,30,.2\n42,30,.2\n43,30,.2\n44,30,.4\n45,30,.4\n46,30,.2\n47,30,.6\n48,30,.2\n49,30,.6\n50,30,.2\n51,30,.2\n52,30,.2\n53,30,.2\n54,30,.6\n55,30,.2\n56,30,.2\n57,30,.2\n58,30,.2\n59,30,.4\n60,30,.2\n61,30,.4\n62,30,.4\n63,30,.95\n64,30,.2\n65,30,.2\n66,30,.2\n67,30,.2\n68,30,.2\n69,30,.4\n70,30,.8\n71,30,.2\n72,30,.2\n73,30,.2\n74,30,.2\n75,30,.4\n76,30,.2\n77,30,.2\n78,30,.6\n79,30,.4\n80,30,.4\n81,30,.2\n82,30,.2\n83,30,.6\n84,30,.2\n85,30,.2\n86,30,.2\n87,30,.8\n88,30,.2\n89,30,.2\n90,30,.4\n1,31,.2\n2,31,.2\n3,31,.95\n4,31,.95\n5,31,.95\n6,31,.95\n7,31,.95\n8,31,.95\n9,31,.95\n10,31,.4\n11,31,.95\n12,31,.8\n13,31,.95\n14,31,.2\n15,31,.2\n16,31,.6\n17,31,.2\n18,31,.2\n19,31,.2\n20,31,.2\n21,31,.2\n22,31,.2\n23,31,.2\n24,31,.2\n25,31,.2\n26,31,.2\n27,31,.2\n28,31,.2\n29,31,.6\n30,31,.2\n31,31,.2\n32,31,.2\n33,31,.2\n34,31,.2\n35,31,.2\n36,31,.2\n37,31,.4\n38,31,.6\n39,31,.4\n40,31,.4\n41,31,.2\n42,31,.2\n43,31,.2\n44,31,.6\n45,31,.6\n46,31,.4\n47,31,.8\n48,31,.4\n49,31,.8\n50,31,.4\n51,31,.2\n52,31,.2\n53,31,.2\n54,31,.95\n55,31,.2\n56,31,.2\n57,31,.2\n58,31,.6\n59,31,.2\n60,31,.2\n61,31,.2\n62,31,.2\n63,31,.95\n64,31,.4\n65,31,.4\n66,31,.6\n67,31,.4\n68,31,.2\n69,31,.2\n70,31,.8\n71,31,.2\n72,31,.2\n73,31,.2\n74,31,.6\n75,31,.6\n76,31,.4\n77,31,.2\n78,31,.4\n79,31,.2\n80,31,.2\n81,31,.2\n82,31,.2\n83,31,.2\n84,31,.4\n85,31,.6\n86,31,.4\n87,31,.8\n88,31,.2\n89,31,.6\n90,31,.6\n1,32,.2\n2,32,.2\n3,32,.2\n4,32,.2\n5,32,.2\n6,32,.2\n7,32,.2\n8,32,.2\n9,32,.2\n10,32,.2\n11,32,.2\n12,32,.4\n13,32,.2\n14,32,.8\n15,32,.8\n16,32,.6\n17,32,.8\n18,32,.8\n19,32,.2\n20,32,.8\n21,32,.95\n22,32,.8\n23,32,.8\n24,32,.8\n25,32,.8\n26,32,.8\n27,32,.8\n28,32,.2\n29,32,.6\n30,32,.8\n31,32,.95\n32,32,.8\n33,32,.8\n34,32,.8\n35,32,.4\n36,32,.95\n37,32,.8\n38,32,.4\n39,32,.8\n40,32,.8\n41,32,.8\n42,32,.8\n43,32,.95\n44,32,.6\n45,32,.4\n46,32,.8\n47,32,.2\n48,32,.8\n49,32,.2\n50,32,.8\n51,32,.8\n52,32,.95\n53,32,.95\n54,32,.6\n55,32,.8\n56,32,.95\n57,32,.8\n58,32,.8\n59,32,.8\n60,32,.8\n61,32,.8\n62,32,.8\n63,32,.2\n64,32,.8\n65,32,.8\n66,32,.8\n67,32,.8\n68,32,.8\n69,32,.8\n70,32,.2\n71,32,.8\n72,32,.8\n73,32,.8\n74,32,.8\n75,32,.6\n76,32,.8\n77,32,.8\n78,32,.6\n79,32,.6\n80,32,.6\n81,32,.8\n82,32,.8\n83,32,.8\n84,32,.8\n85,32,.8\n86,32,.6\n87,32,.2\n88,32,.8\n89,32,.6\n90,32,.6\n1,33,.2\n2,33,.2\n3,33,.2\n4,33,.2\n5,33,.2\n6,33,.2\n7,33,.2\n8,33,.2\n9,33,.2\n10,33,.2\n11,33,.2\n12,33,.2\n13,33,.2\n14,33,.8\n15,33,.8\n16,33,.8\n17,33,.8\n18,33,.8\n19,33,.2\n20,33,.8\n21,33,.8\n22,33,.8\n23,33,.8\n24,33,.8\n25,33,.8\n26,33,.8\n27,33,.8\n28,33,.4\n29,33,.8\n30,33,.8\n31,33,.8\n32,33,.95\n33,33,.95\n34,33,.8\n35,33,.2\n36,33,.8\n37,33,.8\n38,33,.2\n39,33,.8\n40,33,.8\n41,33,.8\n42,33,.8\n43,33,.8\n44,33,.4\n45,33,.2\n46,33,.6\n47,33,.2\n48,33,.6\n49,33,.2\n50,33,.6\n51,33,.8\n52,33,.8\n53,33,.8\n54,33,.2\n55,33,.8\n56,33,.8\n57,33,.95\n58,33,.6\n59,33,.95\n60,33,.8\n61,33,.8\n62,33,.95\n63,33,.4\n64,33,.6\n65,33,.6\n66,33,.6\n67,33,.6\n68,33,.95\n69,33,.8\n70,33,.4\n71,33,.8\n72,33,.8\n73,33,.8\n74,33,.6\n75,33,.4\n76,33,.8\n77,33,.8\n78,33,.95\n79,33,.8\n80,33,.8\n81,33,.8\n82,33,.8\n83,33,.8\n84,33,.8\n85,33,.6\n86,33,.6\n87,33,.2\n88,33,.6\n89,33,.4\n90,33,.4\n1,34,.2\n2,34,.2\n3,34,.2\n4,34,.2\n5,34,.2\n6,34,.2\n7,34,.2\n8,34,.2\n9,34,.2\n10,34,.2\n11,34,.2\n12,34,.4\n13,34,.2\n14,34,.95\n15,34,.95\n16,34,.8\n17,34,.95\n18,34,.95\n19,34,.2\n20,34,.95\n21,34,.95\n22,34,.95\n23,34,.95\n24,34,.8\n25,34,.95\n26,34,.95\n27,34,.95\n28,34,.2\n29,34,.8\n30,34,.95\n31,34,.95\n32,34,.95\n33,34,.95\n34,34,.8\n35,34,.4\n36,34,.95\n37,34,.8\n38,34,.4\n39,34,.8\n40,34,.8\n41,34,.95\n42,34,.8\n43,34,.95\n44,34,.6\n45,34,.4\n46,34,.8\n47,34,.2\n48,34,.8\n49,34,.2\n50,34,.8\n51,34,.8\n52,34,.95\n53,34,.95\n54,34,.4\n55,34,.95\n56,34,.95\n57,34,.95\n58,34,.8\n59,34,.95\n60,34,.8\n61,34,.8\n62,34,.95\n63,34,.2\n64,34,.8\n65,34,.8\n66,34,.8\n67,34,.8\n68,34,.95\n69,34,.8\n70,34,.4\n71,34,.95\n72,34,.8\n73,34,.95\n74,34,.8\n75,34,.6\n76,34,.8\n77,34,.8\n78,34,.8\n79,34,.8\n80,34,.8\n81,34,.95\n82,34,.8\n83,34,.8\n84,34,.8\n85,34,.8\n86,34,.6\n87,34,.2\n88,34,.8\n89,34,.6\n90,34,.6\n1,35,.2\n2,35,.2\n3,35,.2\n4,35,.2\n5,35,.2\n6,35,.2\n7,35,.2\n8,35,.2\n9,35,.2\n10,35,.2\n11,35,.2\n12,35,.2\n13,35,.2\n14,35,.8\n15,35,.8\n16,35,.8\n17,35,.8\n18,35,.8\n19,35,.2\n20,35,.8\n21,35,.8\n22,35,.8\n23,35,.8\n24,35,.8\n25,35,.8\n26,35,.8\n27,35,.8\n28,35,.4\n29,35,.8\n30,35,.8\n31,35,.8\n32,35,.95\n33,35,.95\n34,35,.8\n35,35,.2\n36,35,.8\n37,35,.8\n38,35,.2\n39,35,.8\n40,35,.8\n41,35,.8\n42,35,.8\n43,35,.8\n44,35,.4\n45,35,.2\n46,35,.6\n47,35,.2\n48,35,.6\n49,35,.2\n50,35,.6\n51,35,.8\n52,35,.8\n53,35,.8\n54,35,.2\n55,35,.8\n56,35,.8\n57,35,.95\n58,35,.6\n59,35,.95\n60,35,.8\n61,35,.8\n62,35,.95\n63,35,.4\n64,35,.6\n65,35,.6\n66,35,.6\n67,35,.6\n68,35,.95\n69,35,.8\n70,35,.4\n71,35,.8\n72,35,.8\n73,35,.8\n74,35,.6\n75,35,.4\n76,35,.8\n77,35,.8\n78,35,.95\n79,35,.8\n80,35,.6\n81,35,.8\n82,35,.8\n83,35,.8\n84,35,.8\n85,35,.6\n86,35,.6\n87,35,.2\n88,35,.6\n89,35,.4\n90,35,.4\n1,36,.2\n2,36,.2\n3,36,.2\n4,36,.2\n5,36,.2\n6,36,.2\n7,36,.2\n8,36,.2\n9,36,.2\n10,36,.2\n11,36,.2\n12,36,.4\n13,36,.2\n14,36,.95\n15,36,.95\n16,36,.8\n17,36,.95\n18,36,.95\n19,36,.2\n20,36,.95\n21,36,.95\n22,36,.95\n23,36,.95\n24,36,.8\n25,36,.95\n26,36,.95\n27,36,.95\n28,36,.2\n29,36,.8\n30,36,.95\n31,36,.95\n32,36,.95\n33,36,.95\n34,36,.8\n35,36,.4\n36,36,.95\n37,36,.8\n38,36,.4\n39,36,.8\n40,36,.8\n41,36,.95\n42,36,.8\n43,36,.95\n44,36,.6\n45,36,.4\n46,36,.8\n47,36,.2\n48,36,.8\n49,36,.2\n50,36,.8\n51,36,.8\n52,36,.95\n53,36,.95\n54,36,.4\n55,36,.95\n56,36,.95\n57,36,.95\n58,36,.8\n59,36,.95\n60,36,.8\n61,36,.8\n62,36,.95\n63,36,.2\n64,36,.8\n65,36,.8\n66,36,.8\n67,36,.8\n68,36,.95\n69,36,.8\n70,36,.4\n71,36,.95\n72,36,.8\n73,36,.95\n74,36,.8\n75,36,.6\n76,36,.8\n77,36,.8\n78,36,.8\n79,36,.8\n80,36,.8\n81,36,.95\n82,36,.8\n83,36,.8\n84,36,.8\n85,36,.8\n86,36,.6\n87,36,.2\n88,36,.8\n89,36,.6\n90,36,.6\n1,37,.2\n2,37,.2\n3,37,.2\n4,37,.2\n5,37,.2\n6,37,.2\n7,37,.2\n8,37,.2\n9,37,.2\n10,37,.2\n11,37,.2\n12,37,.2\n13,37,.2\n14,37,.95\n15,37,.95\n16,37,.8\n17,37,.8\n18,37,.8\n19,37,.2\n20,37,.8\n21,37,.8\n22,37,.95\n23,37,.95\n24,37,.8\n25,37,.8\n26,37,.8\n27,37,.95\n28,37,.4\n29,37,.8\n30,37,.8\n31,37,.8\n32,37,.8\n33,37,.8\n34,37,.8\n35,37,.2\n36,37,.8\n37,37,.8\n38,37,.2\n39,37,.8\n40,37,.8\n41,37,.8\n42,37,.8\n43,37,.8\n44,37,.4\n45,37,.2\n46,37,.8\n47,37,.2\n48,37,.8\n49,37,.2\n50,37,.8\n51,37,.8\n52,37,.8\n53,37,.8\n54,37,.2\n55,37,.95\n56,37,.8\n57,37,.8\n58,37,.6\n59,37,.95\n60,37,.8\n61,37,.8\n62,37,.95\n63,37,.2\n64,37,.6\n65,37,.6\n66,37,.6\n67,37,.6\n68,37,.8\n69,37,.8\n70,37,.4\n71,37,.8\n72,37,.8\n73,37,.8\n74,37,.6\n75,37,.4\n76,37,.8\n77,37,.8\n78,37,.95\n79,37,.8\n80,37,.8\n81,37,.8\n82,37,.8\n83,37,.8\n84,37,.8\n85,37,.6\n86,37,.6\n87,37,.2\n88,37,.8\n89,37,.4\n90,37,.4\n1,38,.2\n2,38,.2\n3,38,.2\n4,38,.2\n5,38,.2\n6,38,.2\n7,38,.2\n8,38,.2\n9,38,.2\n10,38,.2\n11,38,.2\n12,38,.2\n13,38,.2\n14,38,.95\n15,38,.95\n16,38,.8\n17,38,.95\n18,38,.95\n19,38,.2\n20,38,.95\n21,38,.95\n22,38,.95\n23,38,.95\n24,38,.8\n25,38,.8\n26,38,.95\n27,38,.95\n28,38,.4\n29,38,.8\n30,38,.95\n31,38,.95\n32,38,.95\n33,38,.95\n34,38,.8\n35,38,.2\n36,38,.8\n37,38,.8\n38,38,.4\n39,38,.8\n40,38,.8\n41,38,.8\n42,38,.8\n43,38,.95\n44,38,.6\n45,38,.4\n46,38,.8\n47,38,.2\n48,38,.8\n49,38,.2\n50,38,.8\n51,38,.8\n52,38,.95\n53,38,.8\n54,38,.4\n55,38,.95\n56,38,.95\n57,38,.95\n58,38,.8\n59,38,.95\n60,38,.95\n61,38,.8\n62,38,.95\n63,38,.2\n64,38,.8\n65,38,.8\n66,38,.8\n67,38,.8\n68,38,.95\n69,38,.8\n70,38,.4\n71,38,.8\n72,38,.8\n73,38,.8\n74,38,.8\n75,38,.6\n76,38,.8\n77,38,.8\n78,38,.8\n79,38,.8\n80,38,.8\n81,38,.95\n82,38,.8\n83,38,.8\n84,38,.8\n85,38,.8\n86,38,.6\n87,38,.2\n88,38,.8\n89,38,.4\n90,38,.4"},"mark":{"type":"rect","width":11.5,"height":11.4,"clip":true},"encoding":{"x":{"field":"x","type":"quantitative","scale":{"domain":[0.5,90.5],"nice":false,"zero":false},"axis":null},"y":{"field":"y","type":"quantitative","scale":{"domain":[38.5,0.5],"nice":false,"zero":false},"axis":null},"color":{"field":"v","type":"quantitative","scale":{"type":"threshold","domain":[0.3,0.5,0.7,0.9],"range":["#3B22A5","#3F67F6","#13ABD9","#57C97B","#FAFA12"]},"legend":null}}},
{"data":{"values":[{"a":0.5,"b":90.5,"c":0.5,"d":38.5}]},"mark":{"type":"rect","fillOpacity":0,"stroke":"#8a8a8a","strokeWidth":1},"encoding":{"x":{"field":"a","type":"quantitative","scale":{"domain":[0.5,90.5],"nice":false,"zero":false},"axis":null},"x2":{"field":"b"},"y":{"field":"c","type":"quantitative","scale":{"domain":[38.5,0.5],"nice":false,"zero":false},"axis":null},"y2":{"field":"d"}}},
{"data":{"values":[{"x0":91.96,"x1":94.15,"lo":0,"hi":0.3,"v":0.2},{"x0":91.96,"x1":94.15,"lo":0.3,"hi":0.5,"v":0.4},{"x0":91.96,"x1":94.15,"lo":0.5,"hi":0.7,"v":0.6},{"x0":91.96,"x1":94.15,"lo":0.7,"hi":0.9,"v":0.8},{"x0":91.96,"x1":94.15,"lo":0.9,"hi":1,"v":0.95}]},"mark":{"type":"rect","clip":false},"encoding":{"x":{"field":"x0","type":"quantitative","scale":{"domain":[0.5,90.5],"nice":false,"zero":false},"axis":null},"x2":{"field":"x1"},"y":{"field":"lo","type":"quantitative","scale":{"domain":[0,1],"nice":false,"zero":false},"axis":{"orient":"right","offset":38,"values":[0.1,0.2,0.3,0.4,0.5,0.6,0.7,0.8,0.9],"format":".1f","title":null,"domain":false,"grid":false,"tickSize":-3,"tickColor":"#555555","labelPadding":9,"labelFont":"Liberation Sans","labelFontSize":19,"labelColor":"#404040"}},"y2":{"field":"hi"},"color":{"field":"v","type":"quantitative","scale":{"type":"threshold","domain":[0.3,0.5,0.7,0.9],"range":["#3B22A5","#3F67F6","#13ABD9","#57C97B","#FAFA12"]},"legend":null}}},
{"data":{"values":[{"x":10,"x2":10,"y":0.5,"y2":1.3},{"x":20,"x2":20,"y":0.5,"y2":1.3},{"x":30,"x2":30,"y":0.5,"y2":1.3},{"x":40,"x2":40,"y":0.5,"y2":1.3},{"x":50,"x2":50,"y":0.5,"y2":1.3},{"x":60,"x2":60,"y":0.5,"y2":1.3},{"x":70,"x2":70,"y":0.5,"y2":1.3},{"x":80,"x2":80,"y":0.5,"y2":1.3},{"x":90,"x2":90,"y":0.5,"y2":1.3},{"x":10,"x2":10,"y":37.7,"y2":38.5},{"x":20,"x2":20,"y":37.7,"y2":38.5},{"x":30,"x2":30,"y":37.7,"y2":38.5},{"x":40,"x2":40,"y":37.7,"y2":38.5},{"x":50,"x2":50,"y":37.7,"y2":38.5},{"x":60,"x2":60,"y":37.7,"y2":38.5},{"x":70,"x2":70,"y":37.7,"y2":38.5},{"x":80,"x2":80,"y":37.7,"y2":38.5},{"x":90,"x2":90,"y":37.7,"y2":38.5},{"x":0.5,"x2":1.3,"y":5,"y2":5},{"x":0.5,"x2":1.3,"y":10,"y2":10},{"x":0.5,"x2":1.3,"y":15,"y2":15},{"x":0.5,"x2":1.3,"y":20,"y2":20},{"x":0.5,"x2":1.3,"y":25,"y2":25},{"x":0.5,"x2":1.3,"y":30,"y2":30},{"x":0.5,"x2":1.3,"y":35,"y2":35},{"x":89.7,"x2":90.5,"y":5,"y2":5},{"x":89.7,"x2":90.5,"y":10,"y2":10},{"x":89.7,"x2":90.5,"y":15,"y2":15},{"x":89.7,"x2":90.5,"y":20,"y2":20},{"x":89.7,"x2":90.5,"y":25,"y2":25},{"x":89.7,"x2":90.5,"y":30,"y2":30},{"x":89.7,"x2":90.5,"y":35,"y2":35}]},"mark":{"type":"rule","color":"#4a4a4a","strokeWidth":1},"encoding":{"x":{"field":"x","type":"quantitative","scale":{"domain":[0.5,90.5],"nice":false,"zero":false},"axis":null},"x2":{"field":"x2"},"y":{"field":"y","type":"quantitative","scale":{"domain":[38.5,0.5],"nice":false,"zero":false},"axis":null},"y2":{"field":"y2"}}},
{"data":{"values":[
{"b":"L1","i":0,"x":-0.84,"y":0.6},{"b":"L1","i":1,"x":-2.37,"y":0.79},{"b":"L1","i":2,"x":-3.51,"y":1.37},{"b":"L1","i":3,"x":-4.09,"y":2.23},{"b":"L1","i":4,"x":-4.18,"y":3.19},{"b":"L1","i":5,"x":-4.18,"y":9.54},{"b":"L1","i":6,"x":-4.37,"y":10.41},{"b":"L1","i":7,"x":-5.14,"y":10.89},{"b":"L1","i":8,"x":-7.53,"y":11.18},{"b":"L1","i":9,"x":-5.14,"y":11.47},{"b":"L1","i":10,"x":-4.37,"y":11.95},{"b":"L1","i":11,"x":-4.18,"y":12.81},{"b":"L1","i":12,"x":-4.18,"y":20.12},{"b":"L1","i":13,"x":-4.09,"y":21},{"b":"L1","i":14,"x":-3.51,"y":21.47},{"b":"L1","i":15,"x":-2.37,"y":21.81},{"b":"L1","i":16,"x":-0.84,"y":21.9},
{"b":"L2","i":0,"x":-0.84,"y":22},{"b":"L2","i":1,"x":-2.37,"y":22.15},{"b":"L2","i":2,"x":-3.51,"y":22.63},{"b":"L2","i":3,"x":-4.09,"y":23.3},{"b":"L2","i":4,"x":-4.18,"y":24.17},{"b":"L2","i":5,"x":-4.18,"y":28.78},{"b":"L2","i":6,"x":-4.37,"y":29.46},{"b":"L2","i":7,"x":-5.14,"y":29.94},{"b":"L2","i":8,"x":-7.53,"y":30.23},{"b":"L2","i":9,"x":-5.14,"y":30.51},{"b":"L2","i":10,"x":-4.37,"y":30.99},{"b":"L2","i":11,"x":-4.18,"y":31.67},{"b":"L2","i":12,"x":-4.18,"y":36.86},{"b":"L2","i":13,"x":-4.09,"y":37.63},{"b":"L2","i":14,"x":-3.51,"y":38.11},{"b":"L2","i":15,"x":-2.37,"y":38.4},{"b":"L2","i":16,"x":-0.84,"y":38.55},
{"b":"B1","i":0,"x":0.6,"y":39.56},{"b":"B1","i":1,"x":0.7,"y":40.71},{"b":"B1","i":2,"x":0.89,"y":41.87},{"b":"B1","i":3,"x":1.27,"y":42.64},{"b":"B1","i":4,"x":1.84,"y":42.83},{"b":"B1","i":5,"x":5.69,"y":42.83},{"b":"B1","i":6,"x":6.27,"y":43.12},{"b":"B1","i":7,"x":6.74,"y":43.98},{"b":"B1","i":8,"x":7.03,"y":46.29},{"b":"B1","i":9,"x":7.32,"y":43.98},{"b":"B1","i":10,"x":7.79,"y":43.12},{"b":"B1","i":11,"x":8.37,"y":42.83},{"b":"B1","i":12,"x":12.22,"y":42.83},{"b":"B1","i":13,"x":12.79,"y":42.64},{"b":"B1","i":14,"x":13.17,"y":41.87},{"b":"B1","i":15,"x":13.36,"y":40.71},{"b":"B1","i":16,"x":13.46,"y":39.56},
{"b":"B2","i":0,"x":13.68,"y":39.56},{"b":"B2","i":1,"x":13.78,"y":40.71},{"b":"B2","i":2,"x":13.97,"y":41.87},{"b":"B2","i":3,"x":14.35,"y":42.64},{"b":"B2","i":4,"x":14.92,"y":42.83},{"b":"B2","i":5,"x":21.11,"y":42.83},{"b":"B2","i":6,"x":21.69,"y":43.12},{"b":"B2","i":7,"x":22.16,"y":43.98},{"b":"B2","i":8,"x":22.45,"y":46.29},{"b":"B2","i":9,"x":22.74,"y":43.98},{"b":"B2","i":10,"x":23.21,"y":43.12},{"b":"B2","i":11,"x":23.79,"y":42.83},{"b":"B2","i":12,"x":29.99,"y":42.83},{"b":"B2","i":13,"x":30.56,"y":42.64},{"b":"B2","i":14,"x":30.94,"y":41.87},{"b":"B2","i":15,"x":31.13,"y":40.71},{"b":"B2","i":16,"x":31.23,"y":39.56},
{"b":"B3","i":0,"x":31.45,"y":39.56},{"b":"B3","i":1,"x":31.55,"y":40.71},{"b":"B3","i":2,"x":31.74,"y":41.87},{"b":"B3","i":3,"x":32.12,"y":42.64},{"b":"B3","i":4,"x":32.69,"y":42.83},{"b":"B3","i":5,"x":41.1,"y":42.83},{"b":"B3","i":6,"x":41.68,"y":43.12},{"b":"B3","i":7,"x":42.15,"y":43.98},{"b":"B3","i":8,"x":42.44,"y":46.29},{"b":"B3","i":9,"x":42.73,"y":43.98},{"b":"B3","i":10,"x":43.2,"y":43.12},{"b":"B3","i":11,"x":43.78,"y":42.83},{"b":"B3","i":12,"x":52.35,"y":42.83},{"b":"B3","i":13,"x":52.92,"y":42.64},{"b":"B3","i":14,"x":53.3,"y":41.87},{"b":"B3","i":15,"x":53.49,"y":40.71},{"b":"B3","i":16,"x":53.59,"y":39.56},
{"b":"B4","i":0,"x":53.74,"y":39.56},{"b":"B4","i":1,"x":53.84,"y":40.71},{"b":"B4","i":2,"x":54.03,"y":41.87},{"b":"B4","i":3,"x":54.41,"y":42.64},{"b":"B4","i":4,"x":54.98,"y":42.83},{"b":"B4","i":5,"x":60.52,"y":42.83},{"b":"B4","i":6,"x":61.1,"y":43.12},{"b":"B4","i":7,"x":61.57,"y":43.98},{"b":"B4","i":8,"x":61.86,"y":46.29},{"b":"B4","i":9,"x":62.15,"y":43.98},{"b":"B4","i":10,"x":62.62,"y":43.12},{"b":"B4","i":11,"x":63.2,"y":42.83},{"b":"B4","i":12,"x":68.81,"y":42.83},{"b":"B4","i":13,"x":69.38,"y":42.64},{"b":"B4","i":14,"x":69.76,"y":41.87},{"b":"B4","i":15,"x":69.95,"y":40.71},{"b":"B4","i":16,"x":70.05,"y":39.56},
{"b":"B5","i":0,"x":70.24,"y":39.56},{"b":"B5","i":1,"x":70.34,"y":40.71},{"b":"B5","i":2,"x":70.53,"y":41.87},{"b":"B5","i":3,"x":70.91,"y":42.64},{"b":"B5","i":4,"x":71.48,"y":42.83},{"b":"B5","i":5,"x":76.45,"y":42.83},{"b":"B5","i":6,"x":77.03,"y":43.12},{"b":"B5","i":7,"x":77.5,"y":43.98},{"b":"B5","i":8,"x":77.79,"y":46.29},{"b":"B5","i":9,"x":78.08,"y":43.98},{"b":"B5","i":10,"x":78.55,"y":43.12},{"b":"B5","i":11,"x":79.13,"y":42.83},{"b":"B5","i":12,"x":84.19,"y":42.83},{"b":"B5","i":13,"x":84.76,"y":42.64},{"b":"B5","i":14,"x":85.14,"y":41.87},{"b":"B5","i":15,"x":85.33,"y":40.71},{"b":"B5","i":16,"x":85.43,"y":39.56},
{"b":"B6","i":0,"x":85.65,"y":39.56},{"b":"B6","i":1,"x":85.72,"y":41.2},{"b":"B6","i":2,"x":85.9,"y":42.3},{"b":"B6","i":3,"x":86.25,"y":42.83},{"b":"B6","i":4,"x":87.2,"y":42.83},{"b":"B6","i":5,"x":87.65,"y":43.05},{"b":"B6","i":6,"x":87.85,"y":43.98},{"b":"B6","i":7,"x":88.01,"y":46.29},{"b":"B6","i":8,"x":88.17,"y":43.98},{"b":"B6","i":9,"x":88.37,"y":43.05},{"b":"B6","i":10,"x":88.85,"y":42.83},{"b":"B6","i":11,"x":89.8,"y":42.83},{"b":"B6","i":12,"x":90.15,"y":42.3},{"b":"B6","i":13,"x":90.33,"y":41.2},{"b":"B6","i":14,"x":90.43,"y":39.56}
]},"mark":{"type":"line","stroke":"#111111","strokeWidth":2.6,"interpolate":"catmull-rom","clip":false},"encoding":{"x":{"field":"x","type":"quantitative","scale":{"domain":[0.5,90.5],"nice":false,"zero":false},"axis":null},"y":{"field":"y","type":"quantitative","scale":{"domain":[38.5,0.5],"nice":false,"zero":false},"axis":null},"detail":{"field":"b"},"order":{"field":"i"}}},
{"data":{"values":[{"x":-13.26,"y":11.85,"t":"GLCM"},{"x":-13.74,"y":30.61,"t":"GLRLM"},{"x":6.57,"y":50.94,"t":"shape"},{"x":23.62,"y":50.94,"t":"first order"},{"x":42.9,"y":50.94,"t":"GLCM"},{"x":62.27,"y":50.94,"t":"GLRLM"},{"x":77.4,"y":50.94,"t":"GLSZM"},{"x":88.63,"y":50.94,"t":"NGTDM"}]},"mark":{"type":"text","font":"Liberation Sans","fontSize":26,"color":"#111111","align":"center","baseline":"alphabetic","clip":false},"encoding":{"x":{"field":"x","type":"quantitative","scale":{"domain":[0.5,90.5],"nice":false,"zero":false},"axis":null},"y":{"field":"y","type":"quantitative","scale":{"domain":[38.5,0.5],"nice":false,"zero":false},"axis":null},"text":{"field":"t"}}},
{"data":{"values":[{"x":51.18,"y":56.68,"t":"Features from static images"}]},"mark":{"type":"text","font":"Liberation Sans","fontSize":32,"color":"#111111","align":"center","baseline":"alphabetic","clip":false},"encoding":{"x":{"field":"x","type":"quantitative","scale":{"domain":[0.5,90.5],"nice":false,"zero":false},"axis":null},"y":{"field":"y","type":"quantitative","scale":{"domain":[38.5,0.5],"nice":false,"zero":false},"axis":null},"text":{"field":"t"}}},
{"data":{"values":[{"x":-21,"y":20.5,"t":"Dynamic texture features"}]},"mark":{"type":"text","font":"Liberation Sans","fontSize":32,"color":"#111111","align":"center","baseline":"alphabetic","angle":270,"clip":false},"encoding":{"x":{"field":"x","type":"quantitative","scale":{"domain":[0.5,90.5],"nice":false,"zero":false},"axis":null},"y":{"field":"y","type":"quantitative","scale":{"domain":[38.5,0.5],"nice":false,"zero":false},"axis":null},"text":{"field":"t"}}},
{"data":{"values":[{"x":99.76,"y":14.93,"t":"*"}]},"mark":{"type":"text","font":"Liberation Sans","fontWeight":"bold","fontSize":60,"color":"#000000","align":"center","baseline":"alphabetic","clip":false},"encoding":{"x":{"field":"x","type":"quantitative","scale":{"domain":[0.5,90.5],"nice":false,"zero":false},"axis":null},"y":{"field":"y","type":"quantitative","scale":{"domain":[38.5,0.5],"nice":false,"zero":false},"axis":null},"text":{"field":"t"}}}
]}
